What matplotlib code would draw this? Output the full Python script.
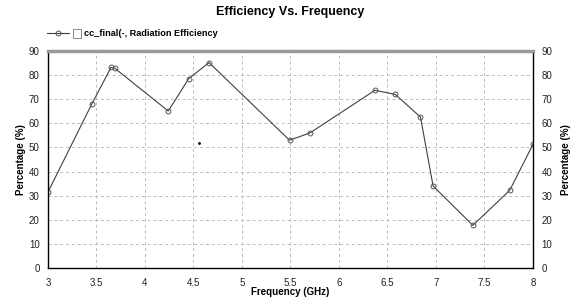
import matplotlib
matplotlib.use("Agg")
import matplotlib.pyplot as plt
from matplotlib.lines import Line2D
from matplotlib.patches import Rectangle

plt.rcParams['font.family'] = ['Liberation Sans', 'DejaVu Sans']

# radiation efficiency
freq = [3.0, 3.45, 3.65, 3.69, 4.24, 4.45, 4.66, 5.49, 5.70, 6.37, 6.58, 6.84, 6.97, 7.38, 7.76, 8.0]
eff = [31.5, 67.9, 83.2, 82.8, 65.1, 78.5, 85.2, 53.0, 56.0, 73.7, 72.0, 62.6, 34.0, 17.7, 32.2, 51.3]
stray_x = [4.56]
stray_y = [51.8]

xticks = [3, 3.5, 4, 4.5, 5, 5.5, 6, 6.5, 7, 7.5, 8]
xticklabels = ['3', '3.5', '4', '4.5', '5', '5.5', '6', '6.5', '7', '7.5', '8']
yticks = [0, 10, 20, 30, 40, 50, 60, 70, 80, 90]

fig = plt.figure(figsize=(5.77, 2.98), dpi=100)
ax = fig.add_axes([48/577, 1-268/298, 485/577, 217/298])

ax.plot(freq, eff, color='#404040', lw=0.8, marker='o', ms=3.5,
        mfc='none', mec='#555555', mew=0.7)
ax.plot(stray_x, stray_y, 'k.', ms=2)

ax.set_xlim(3, 8)
ax.set_ylim(0, 90)
ax.set_xticks(xticks)
ax.set_xticklabels(xticklabels)
ax.set_yticks(yticks)
ax.grid(True, color='#bbbbbb', ls=(0, (3, 3)), lw=0.7)
ax.tick_params(length=0, labelsize=7, pad=6, colors='#222222')
ax.tick_params(axis='x', pad=7)

for s in ['left', 'bottom', 'right']:
    ax.spines[s].set_color('black')
    ax.spines[s].set_linewidth(1.0)
ax.spines['top'].set_color('#999999')
ax.spines['top'].set_linewidth(2.5)

ax.set_xlabel('Frequency (GHz)', fontsize=7, fontweight='bold')
ax.xaxis.set_label_coords(0.5, -0.087)
ax.set_ylabel('Percentage (%)', fontsize=7, fontweight='bold', labelpad=1.8)

ax2 = ax.twinx()
ax2.set_ylim(0, 90)
ax2.set_yticks(yticks)
ax2.tick_params(length=0, labelsize=7, pad=6, colors='#222222')
ax2.set_ylabel('Percentage (%)', fontsize=7, fontweight='bold', labelpad=6)
for s in ax2.spines.values():
    s.set_visible(False)

fig.text(290/577, 1-12/298, 'Efficiency Vs. Frequency', ha='center', va='center',
         fontsize=9, fontweight='bold')

# legend drawn by hand like the original
ly = 1 - 33/298
fig.add_artist(Line2D([47/577, 69/577], [ly, ly], color='#404040', lw=0.8,
                      transform=fig.transFigure))
fig.add_artist(Line2D([58/577], [ly], marker='o', ms=3.5, mfc='none', mec='#555555',
                      mew=0.7, transform=fig.transFigure))
fig.add_artist(Rectangle((73/577, 1-38/298), 8/577, 9/298, fill=False, ec='#888888',
                         lw=0.7, transform=fig.transFigure))
fig.text(84/577, ly, 'cc_final(-, Radiation Efficiency', ha='left', va='center',
         fontsize=6.6, fontweight='bold')

fig.savefig('out.png', dpi=100)
